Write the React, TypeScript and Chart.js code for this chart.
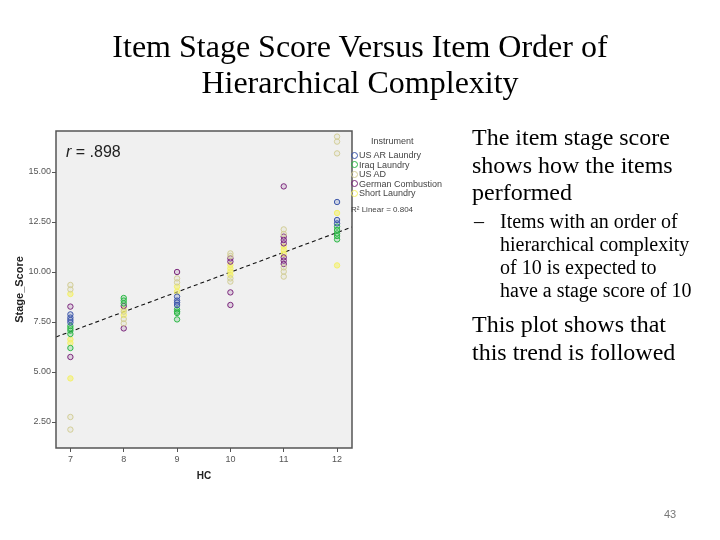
import React, { useEffect, useRef } from "react";
import { Chart, registerables } from "chart.js";

Chart.register(...registerables);

// ---- data ----
const seriesNames = ["US AR Laundry", "Iraq Laundry", "US AD", "German Combustion", "Short Laundry"];
const seriesColors = ["#3E58AC", "#2EB848", "#D3CE97", "#7C287D", "#F4F06A"];
const seriesFillAlpha = [0.2, 0.2, 0.15, 0.15, 0.55];

const usArHc = [7, 7, 7, 7, 9, 9, 9, 9, 12, 12, 12];
const usArScore = [7.88, 7.72, 7.6, 7.48, 8.77, 8.57, 8.47, 8.35, 13.5, 12.6, 12.43];

const iraqHc = [7, 7, 7, 7, 7, 8, 8, 8, 9, 9, 9, 9, 12, 12, 12, 12, 12];
const iraqScore = [7.3, 7.18, 7.07, 6.9, 6.2, 8.7, 8.57, 8.43, 8.13, 8.02, 7.95, 7.63, 12.27, 12.1, 11.93, 11.8, 11.63];

const usAdHc = [7, 7, 7, 7, 8, 8, 8, 9, 9, 10, 10, 10, 10, 11, 11, 11, 11, 11, 12, 12, 12];
const usAdScore = [9.35, 9.13, 2.75, 2.12, 8.02, 7.65, 7.43, 9.68, 9.48, 10.93, 10.8, 9.68, 9.52, 12.13, 11.9, 10.23, 10.02, 9.77, 16.77, 16.52, 15.93];

const germanHc = [7, 7, 8, 8, 9, 10, 10, 10, 10, 11, 11, 11, 11, 11, 11, 11];
const germanScore = [8.27, 5.75, 8.3, 7.18, 10.0, 10.68, 10.52, 8.98, 8.35, 14.28, 11.77, 11.6, 11.43, 10.73, 10.57, 10.4];

const shortHc = [7, 7, 7, 7, 8, 8, 9, 9, 10, 10, 10, 10, 11, 11, 11, 12, 12];
const shortScore = [8.9, 6.63, 6.45, 4.68, 8.13, 7.85, 9.27, 9.02, 10.35, 10.18, 10.02, 9.85, 11.27, 11.1, 10.9, 12.95, 10.33];

const fitHc = [6.73, 12.28];
const fitScore = [6.75, 12.25];

const xTicks = [7, 8, 9, 10, 11, 12];
const yTicks = [2.5, 5, 7.5, 10, 12.5, 15];

const seriesHc = [usArHc, iraqHc, usAdHc, germanHc, shortHc];
const seriesScore = [usArScore, iraqScore, usAdScore, germanScore, shortScore];

const SANS = "'Liberation Sans', Arial, sans-serif";
const SERIF = "'Liberation Serif', 'Times New Roman', serif";

const framePlugin = {
  id: "frame",
  beforeDraw(chart: any) {
    const { ctx, chartArea: a } = chart;
    ctx.save();
    ctx.fillStyle = "#F0F0F0";
    ctx.fillRect(a.left, a.top, a.right - a.left, a.bottom - a.top);
    ctx.restore();
  },
  afterDraw(chart: any) {
    const { ctx, chartArea: a } = chart;
    ctx.save();
    ctx.strokeStyle = "#555555";
    ctx.lineWidth = 1.5;
    ctx.strokeRect(a.left, a.top, a.right - a.left, a.bottom - a.top);
    ctx.restore();
  },
};

function hexA(hex: string, a: number) {
  const n = parseInt(hex.slice(1), 16);
  return `rgba(${(n >> 16) & 255},${(n >> 8) & 255},${n & 255},${a})`;
}

export default function App() {
  const ref = useRef<HTMLCanvasElement | null>(null);

  useEffect(() => {
    if (!ref.current) return;
    const datasets: any[] = seriesNames.map((name, i) => ({
      type: "scatter",
      label: name,
      data: seriesHc[i].map((x, j) => ({ x, y: seriesScore[i][j] })),
      pointStyle: "circle",
      pointRadius: 2.7,
      pointBorderWidth: 1,
      borderColor: seriesColors[i],
      backgroundColor: hexA(seriesColors[i], seriesFillAlpha[i]),
    }));
    datasets.push({
      type: "line",
      label: "Linear",
      data: fitHc.map((x, j) => ({ x, y: fitScore[j] })),
      borderColor: "#111111",
      borderWidth: 1.1,
      borderDash: [4, 3],
      pointRadius: 0,
      fill: false,
    });

    const chart = new Chart(ref.current, {
      type: "scatter",
      data: { datasets },
      plugins: [framePlugin],
      options: {
        animation: false,
        responsive: false,
        devicePixelRatio: 1,
        layout: { padding: { left: 10, top: 131, right: 368, bottom: 56 } },
        plugins: { legend: { display: false }, tooltip: { enabled: false } },
        scales: {
          x: {
            type: "linear",
            min: 6.73,
            max: 12.28,
            afterFit: (s: any) => { s.height = 36; },
            afterBuildTicks: (s: any) => { s.ticks = xTicks.map((v) => ({ value: v })); },
            ticks: { font: { family: SANS, size: 9 }, color: "#555", padding: 2, callback: (v: any) => String(v) },
            grid: { drawOnChartArea: false, drawTicks: true, tickLength: 4, color: "#555" },
            border: { display: false },
            title: { display: true, text: "HC", font: { family: SANS, size: 10, weight: "bold" }, color: "#222", padding: { top: 0, bottom: 2 } },
          },
          y: {
            type: "linear",
            min: 1.2,
            max: 17.05,
            afterFit: (s: any) => { s.width = 46; },
            afterBuildTicks: (s: any) => { s.ticks = yTicks.map((v) => ({ value: v })); },
            ticks: { font: { family: SANS, size: 9 }, color: "#555", padding: 1, callback: (v: any) => Number(v).toFixed(2) },
            grid: { drawOnChartArea: false, drawTicks: true, tickLength: 4, color: "#555" },
            border: { display: false },
            title: { display: true, text: "Stage_Score", font: { family: SANS, size: 11, weight: "bold" }, color: "#222", padding: { top: 3, bottom: 0 } },
          },
        },
      } as any,
    });
    return () => chart.destroy();
  }, []);

  const abs = (s: React.CSSProperties): React.CSSProperties => ({ position: "absolute", whiteSpace: "nowrap", ...s });

  return (
    <div style={{ position: "absolute", left: 0, top: 0, width: 720, height: 540, background: "#fff", overflow: "hidden" }}>
      <canvas ref={ref} width={720} height={540} style={{ position: "absolute", left: 0, top: 0, width: 720, height: 540 }} />
      {/* title */}
      <div style={abs({ left: 0, top: 28, width: 720, textAlign: "center", fontFamily: SERIF, fontSize: 32, lineHeight: "36px", color: "#000" })}>
        Item Stage Score Versus Item Order of<br />Hierarchical Complexity
      </div>
      {/* r value */}
      <div style={abs({ left: 66, top: 142, fontFamily: SANS, fontSize: 16, lineHeight: "19px", color: "#222" })}>
        <i>r</i> = .898
      </div>
      {/* legend */}
      <div style={abs({ left: 371, top: 136, fontFamily: SANS, fontSize: 9, lineHeight: "10px", color: "#444" })}>Instrument</div>
      {seriesNames.map((n, i) => (
        <div key={n} style={abs({ left: 351, top: 150 + i * 9.5, fontFamily: SANS, fontSize: 9, lineHeight: "10px", color: "#444", display: "flex", alignItems: "center" })}>
          <span style={{ display: "inline-block", width: 5, height: 5, borderRadius: "50%", border: `1px solid ${seriesColors[i]}`, marginRight: 1 }} />
          {n}
        </div>
      ))}
      <div style={abs({ left: 351, top: 205, fontFamily: SANS, fontSize: 8, lineHeight: "9px", color: "#444" })}>
        R² Linear = 0.804
      </div>
      {/* right text */}
      <div style={abs({ left: 472, top: 124, fontFamily: SERIF, fontSize: 24, lineHeight: "27.5px", color: "#000" })}>
        The item stage score<br />shows how the items<br />performed
      </div>
      <div style={abs({ left: 474, top: 210, fontFamily: SERIF, fontSize: 20, lineHeight: "23px", color: "#000" })}>–</div>
      <div style={abs({ left: 500, top: 210, fontFamily: SERIF, fontSize: 20, lineHeight: "23px", color: "#000" })}>
        Items with an order of<br />hierarchical complexity<br />of 10 is expected to<br />have a stage score of 10
      </div>
      <div style={abs({ left: 472, top: 309.5, fontFamily: SERIF, fontSize: 24, lineHeight: "28.5px", color: "#000" })}>
        This plot shows that<br />this trend is followed
      </div>
      <div style={abs({ left: 664, top: 508, fontFamily: SANS, fontSize: 11, color: "#777" })}>43</div>
    </div>
  );
}
